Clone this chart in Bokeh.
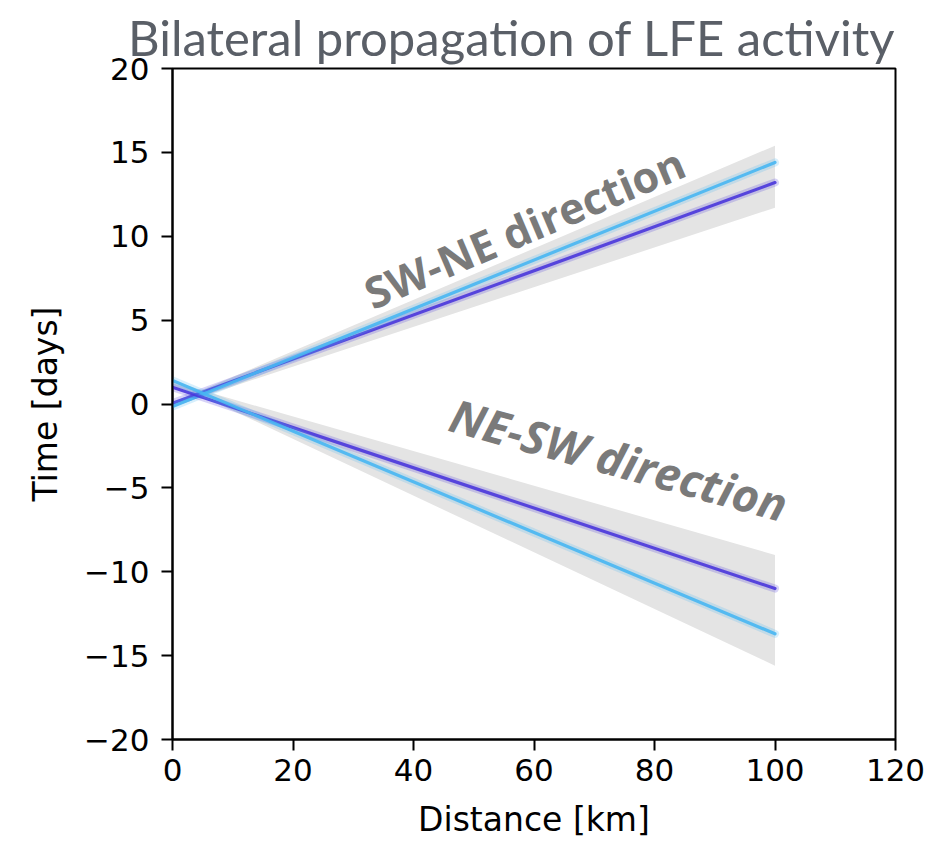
from bokeh.plotting import figure
from bokeh.models import Range1d, FixedTicker, CustomJSTickFormatter, Label
from bokeh.embed import file_html
from bokeh.resources import INLINE

# ---- data ----
line_x = [0, 100]
swne_light = [-0.15, 14.4]
swne_purple = [0.05, 13.2]
nesw_light = [1.4, -13.7]
nesw_purple = [1.0, -11.0]

band_x = [0, 5, 100]
swne_band_upper = [0.0, 0.85, 15.4]
swne_band_lower = [-0.2, 0.45, 11.7]
nesw_band_upper = [1.4, 0.8, -9.0]
nesw_band_lower = [1.1, 0.45, -15.6]

x_ticks = [0, 20, 40, 60, 80, 100, 120]
y_ticks = [-20, -15, -10, -5, 0, 5, 10, 15, 20]

LIGHT = "#48b6f2"
PURPLE = "#4a36dc"
BAND = "#e4e4e4"

p = figure(width=930, height=841, output_backend="svg", toolbar_location=None,
           x_range=Range1d(0, 120), y_range=Range1d(-20, 20),
           min_border_left=172, min_border_right=35, min_border_top=68, min_border_bottom=98)

p.title.text = "Bilateral propagation of LFE activity"
p.title.text_font = "Lato"
p.title.text_font_size = "49px"
p.title.text_font_style = "normal"
p.title.text_color = "#5a5f67"
p.title.align = "right"
p.title.standoff = 5

p.grid.visible = False
p.outline_line_color = "black"
p.outline_line_width = 2
p.outline_line_alpha = 1
p.background_fill_color = "white"
p.border_fill_color = "white"

# bands
for up, lo in [(swne_band_upper, swne_band_lower), (nesw_band_upper, nesw_band_lower)]:
    p.varea(x=band_x, y1=lo, y2=up, fill_color=BAND, fill_alpha=1.0)

# lines with soft glow
for ys, col in [(swne_purple, PURPLE), (swne_light, LIGHT), (nesw_purple, PURPLE), (nesw_light, LIGHT)]:
    p.line(x=line_x, y=ys, line_color=col, line_width=8, line_alpha=0.22, line_cap="round")
    p.line(x=line_x, y=ys, line_color=col, line_width=3.2, line_alpha=0.9, line_cap="round")

# annotations
p.add_layout(Label(x=32.2, y=6.5, text="SW-NE direction", angle=23.1, angle_units="deg",
                   text_font="Open Sans", text_font_style="bold", text_font_size="43px",
                   text_color="#7a7a7a", text_baseline="alphabetic", text_align="left"))
p.add_layout(Label(x=46.3, y=-0.55, text="NE-SW direction", angle=-15.3, angle_units="deg",
                   text_font="Open Sans", text_font_style="bold italic", text_font_size="46px",
                   text_color="#7a7a7a", text_baseline="alphabetic", text_align="left"))

fmt = CustomJSTickFormatter(code="return tick < 0 ? '\\u2212' + (-tick) : '' + tick;")
for ax, ticks in [(p.xaxis[0], x_ticks), (p.yaxis[0], y_ticks)]:
    ax.ticker = FixedTicker(ticks=ticks)
    ax.formatter = fmt
    ax.major_label_text_font = "DejaVu Sans"
    ax.major_label_text_font_size = "31px"
    ax.major_label_text_color = "black"
    ax.axis_label_text_font = "DejaVu Sans"
    ax.axis_label_text_font_size = "33px"
    ax.axis_label_text_font_style = "normal"
    ax.axis_label_text_color = "black"
    ax.axis_line_color = "black"
    ax.axis_line_width = 2
    ax.major_tick_line_color = "black"
    ax.major_tick_line_width = 2
    ax.major_tick_out = 11
    ax.major_tick_in = 0
    ax.minor_tick_line_color = None

p.xaxis.axis_label = "Distance [km]"
p.yaxis.axis_label = "Time [days]"
p.xaxis.major_label_standoff = 8
p.yaxis.major_label_standoff = 12
p.xaxis.axis_label_standoff = 16
p.yaxis.axis_label_standoff = 16

open("out.html", "w").write(file_html(p, INLINE))
